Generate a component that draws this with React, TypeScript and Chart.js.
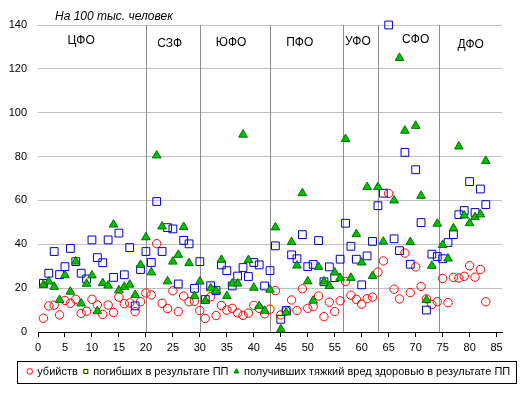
import React, { useEffect, useRef } from 'react';
import { Chart, registerables } from 'chart.js';

Chart.register(...registerables);

// Region number (x) for each point
const regionNumbers = [
  1, 2, 3, 4, 5, 6, 7, 8, 9, 10, 11, 12, 13, 14, 15, 16, 17, 18, 19, 20,
  21, 22, 23, 24, 25, 26, 27, 28, 29, 30, 31, 32, 33, 34, 35, 36, 37, 38, 39, 40,
  41, 42, 43, 44, 45, 46, 47, 48, 49, 50, 51, 52, 53, 54, 55, 56, 57, 58, 59, 60,
  61, 62, 63, 64, 65, 66, 67, 68, 69, 70, 71, 72, 73, 74, 75, 76, 77, 78, 79, 80,
  81, 82, 83,
];

const xTickValues = [0, 5, 10, 15, 20, 25, 30, 35, 40, 45, 50, 55, 60, 65, 70, 75, 80, 85];
const yTickValues = [0, 20, 40, 60, 80, 100, 120, 140];

const murders = [
  6.3, 11.9, 12.2, 7.8, 14.4, 13.1, 14.9, 8.5, 9.5, 14.9,
  12.3, 8.0, 12.3, 8.9, 15.9, 12.9, 13.3, 9.3, 13.8, 17.8,
  16.9, 40.3, 13.1, 10.7, 18.8, 9.3, 16.4, 13.8, 14.0, 9.8,
  6.2, 16.1, 7.5, 12.1, 10.0, 10.8, 8.7, 7.6, 8.6, 12.1,
  10.8, 8.3, 10.4, 18.9, 7.8, 9.6, 14.6, 9.8, 19.7, 10.8,
  11.6, 16.4, 7.0, 13.6, 9.3, 14.2, 23.0, 16.8, 14.9, 12.7,
  15.2, 15.9, 27.3, 32.4, 63.2, 19.5, 15.1, 36.0, 18.0, 29.7,
  20.8, 15.1, 12.5, 13.8, 24.4, 13.4, 24.9, 24.6, 25.4, 30.2,
  25.0, 28.5, 13.8,
];

const roadDeaths = [
  22.2, 26.8, 36.7, 26.2, 29.8, 38.1, 32.1, 26.8, 24.2, 42.0,
  33.9, 31.6, 42.0, 24.9, 45.1, 26.1, 38.5, 11.9, 28.5, 36.7,
  31.7, 59.5, 36.7, 47.6, 47.0, 21.9, 41.8, 40.2, 19.9, 32.1,
  14.8, 21.1, 18.9, 30.6, 28.0, 21.0, 25.5, 29.4, 25.3, 31.7,
  30.6, 21.0, 28.0, 39.3, 5.8, 9.8, 35.2, 33.4, 44.4, 29.8,
  30.8, 41.7, 22.9, 29.7, 24.8, 33.2, 49.6, 39.1, 33.2, 21.5,
  34.7, 41.3, 57.6, 63.3, 140.0, 42.5, 37.1, 81.9, 30.9, 74.0,
  49.9, 10.0, 35.5, 34.4, 33.4, 40.8, 44.4, 53.5, 55.4, 68.6,
  54.5, 65.2, 58.1,
];

const seriousInjuries = [
  21.5, 23.0, 20.6, 14.6, 25.9, 18.4, 32.1, 13.0, 22.0, 25.8,
  9.5, 22.3, 21.2, 49.0, 19.0, 20.6, 21.6, 16.9, 30.6, 43.2,
  27.2, 80.5, 48.1, 23.1, 32.1, 35.2, 47.9, 31.4, 16.4, 23.0,
  14.2, 19.9, 18.8, 32.9, 16.4, 22.1, 22.1, 90.0, 32.8, 20.2,
  11.8, 9.7, 19.3, 47.7, 1.2, 8.9, 41.0, 30.3, 63.3, 23.1,
  14.3, 29.7, 23.0, 21.0, 27.1, 24.7, 88.0, 24.7, 44.6, 31.7,
  66.1, 25.5, 66.1, 41.2, null, 60.0, 125.0, 91.8, 41.0, 94.0,
  62.1, 14.6, 30.2, 49.4, 39.7, 33.5, 47.3, 84.6, 53.1, 49.6,
  52.4, 53.6, 78.0,
];

const seriesLabels = [
  'убийств',
  'погибших в результате ПП',
  'получивших тяжкий вред здоровью в результате ПП',
];

const districtNames = ['ЦФО', 'СЗФ', 'ЮФО', 'ПФО', 'УФО', 'СФО', 'ДФО'];
const districtBoundaries = [20, 30, 43, 56.5, 63, 74.3];
const unitsNote = 'На 100 тыс. человек';

// annotation placement (data coordinates)
const districtLabelX = [8, 24.4, 35.8, 48.5, 59.3, 70, 80.2];
const districtLabelY = [132.8, 131.6, 131.9, 131.9, 132.4, 133.5, 131.2];

const FONT = '"Liberation Sans", Arial, sans-serif';

const overlayPlugin = {
  id: 'overlay',
  afterLayout(chart: any) {
    const lg = chart.legend;
    if (lg) {
      lg.left += 18;
      lg.right += 18;
    }
  },
  beforeDatasetsDraw(chart: any) {
    const { ctx, chartArea, scales } = chart;
    const x = scales.x;
    const y = scales.y;
    ctx.save();
    ctx.strokeStyle = '#8c8c8c';
    ctx.lineWidth = 1;
    districtBoundaries.forEach((b) => {
      const px = Math.round(x.getPixelForValue(b)) + 0.5;
      ctx.beginPath();
      ctx.moveTo(px, chartArea.top);
      ctx.lineTo(px, chartArea.bottom);
      ctx.stroke();
    });
    ctx.fillStyle = '#000';
    ctx.font = `12px ${FONT}`;
    ctx.textAlign = 'center';
    ctx.textBaseline = 'middle';
    districtNames.forEach((n, i) => {
      ctx.fillText(n, x.getPixelForValue(districtLabelX[i]), y.getPixelForValue(districtLabelY[i]));
    });
    ctx.font = `italic 12px ${FONT}`;
    ctx.textAlign = 'left';
    ctx.fillText(unitsNote, chartArea.left + 17, chartArea.top - 8);
    ctx.restore();
  },
  afterDraw(chart: any) {
    const lg = chart.legend;
    if (!lg) return;
    const { ctx } = chart;
    const textCenter = lg.top + 6 + 5.5;
    ctx.save();
    ctx.strokeStyle = '#000';
    ctx.lineWidth = 1;
    const left = 17.5;
    const right = chart.width - 6.5;
    ctx.strokeRect(left, Math.round(textCenter - 11) + 0.5, right - left, 22);
    ctx.restore();
  },
};

export default function App() {
  const ref = useRef<HTMLCanvasElement | null>(null);

  useEffect(() => {
    if (!ref.current) return;
    const mk = (vals: (number | null)[]) =>
      regionNumbers.map((x, i) => ({ x, y: vals[i] }));
    const chart = new Chart(ref.current, {
      type: 'scatter',
      data: {
        datasets: [
          {
            label: seriesLabels[0],
            data: mk(murders),
            pointStyle: 'circle',
            pointRadius: 4.2,
            pointHoverRadius: 4.2,
            borderColor: '#ff0000',
            backgroundColor: 'rgba(0,0,0,0)',
            borderWidth: 1,
            order: 3,
            clip: false,
          } as any,
          {
            label: seriesLabels[1],
            data: mk(roadDeaths),
            pointStyle: 'rect',
            pointRadius: 5.5,
            pointHoverRadius: 5.5,
            borderColor: '#0000c0',
            backgroundColor: 'rgba(0,0,0,0)',
            borderWidth: 1,
            order: 2,
            clip: false,
          } as any,
          {
            label: seriesLabels[2],
            data: mk(seriousInjuries),
            pointStyle: 'triangle',
            pointRadius: 5,
            pointHoverRadius: 5,
            borderColor: '#007000',
            backgroundColor: '#00c000',
            borderWidth: 1,
            order: 1,
            clip: false,
          } as any,
        ],
      },
      options: {
        responsive: false,
        animation: false,
        devicePixelRatio: 1,
        layout: { padding: { top: 25, right: 21, bottom: 6, left: 0 } },
        plugins: {
          tooltip: { enabled: false },
          title: { display: false },
          legend: {
            display: true,
            position: 'bottom',
            labels: {
              usePointStyle: true,
              boxWidth: 4,
              boxHeight: 4,
              padding: 6,
              color: '#000',
              font: { size: 11, family: FONT },
              sort: (a: any, b: any) => a.datasetIndex - b.datasetIndex,
            },
          },
        },
        scales: {
          x: {
            type: 'linear',
            min: 0,
            max: 86,
            afterBuildTicks: (s: any) => {
              s.ticks = xTickValues.map((v) => ({ value: v }));
            },
            afterFit: (s: any) => {
              s.height = 28;
            },
            ticks: {
              autoSkip: false,
              maxRotation: 0,
              padding: 4,
              color: '#000',
              font: { size: 11, family: FONT },
            },
            grid: {
              drawOnChartArea: false,
              drawTicks: true,
              tickLength: 5,
              color: '#000',
            },
            border: { display: true, color: '#000', width: 1 },
          },
          y: {
            type: 'linear',
            min: 0,
            max: 140,
            afterBuildTicks: (s: any) => {
              s.ticks = yTickValues.map((v) => ({ value: v }));
            },
            afterFit: (s: any) => {
              s.width = 38;
            },
            ticks: {
              padding: 11,
              color: '#000',
              font: { size: 11, family: FONT },
            },
            grid: { color: '#c0c0c0', drawTicks: false },
            border: { display: false },
          },
        },
      },
      plugins: [overlayPlugin],
    } as any);
    return () => chart.destroy();
  }, []);

  return (
    <div style={{ position: 'absolute', left: 0, top: 0, width: 523, height: 393, background: '#fff' }}>
      <canvas ref={ref} width={523} height={393} />
    </div>
  );
}
